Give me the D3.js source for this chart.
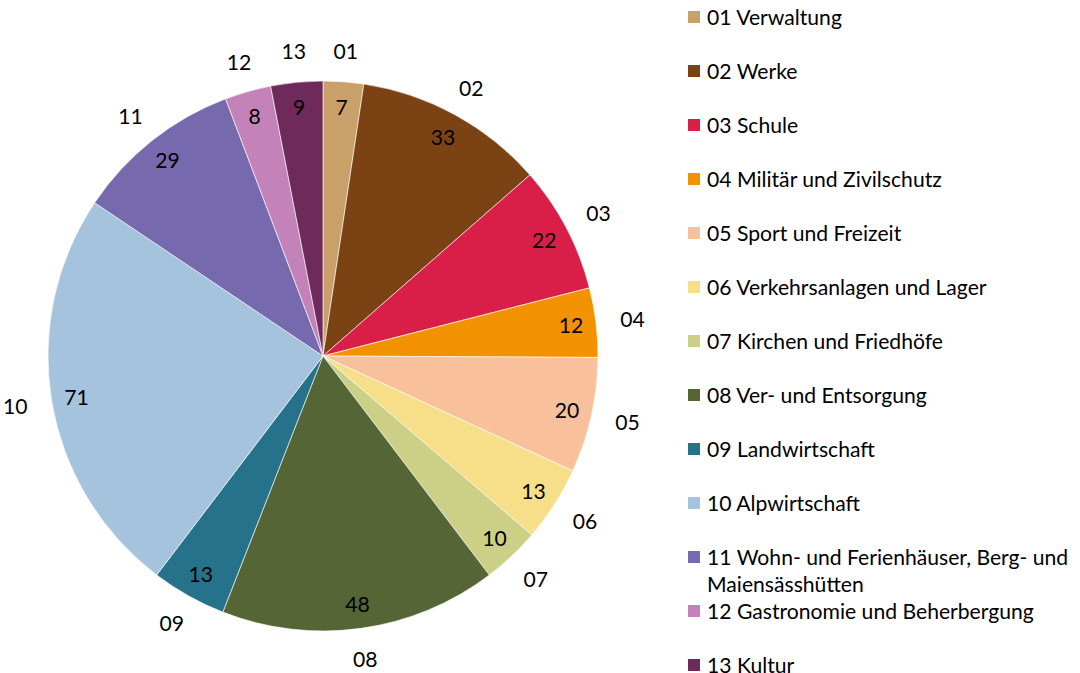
<!DOCTYPE html>
<html>
<head>
<meta charset="utf-8">
<script src="https://cdn.jsdelivr.net/npm/d3@7"></script>
<style>
  html, body { margin: 0; padding: 0; background: #fff; }
  svg { display: block; }
  text { font-family: Lato, "Open Sans", sans-serif; fill: #000; }
</style>
</head>
<body>
<svg id="chart" width="1080" height="673"></svg>
<script>
const codes = ["01","02","03","04","05","06","07","08","09","10","11","12","13"];
const categories = [
  "01 Verwaltung",
  "02 Werke",
  "03 Schule",
  "04 Militär und Zivilschutz",
  "05 Sport und Freizeit",
  "06 Verkehrsanlagen und Lager",
  "07 Kirchen und Friedhöfe",
  "08 Ver- und Entsorgung",
  "09 Landwirtschaft",
  "10 Alpwirtschaft",
  "11 Wohn- und Ferienhäuser, Berg- und Maiensässhütten",
  "12 Gastronomie und Beherbergung",
  "13 Kultur"
];
const values = [7, 33, 22, 12, 20, 13, 10, 48, 13, 71, 29, 8, 9];
const colors = ["#C9A06A","#7B4213","#D91F47","#F39200","#F8C09B","#F7DF8A","#CBD086",
                "#556535","#27728B","#A5C3DD","#7769AE","#C383B9","#6E2A5A"];

const svg = d3.select("#chart");
const cx = 323, cy = 356, R = 275;

// font size fitted so the legend text widths match a Calibri-like rendering
const probe = svg.append("text").attr("font-size", 20).text("01 Verwaltung");
const w20 = probe.node().getComputedTextLength();
probe.remove();
const fs = 20 * 135 / w20;

const data = categories.map((c, i) => ({ code: codes[i], name: c, value: values[i], color: colors[i] }));
const pie = d3.pie().value(d => d.value).sort(null);
const arcs = pie(data);
const arc = d3.arc().innerRadius(0).outerRadius(R);

const g = svg.append("g").attr("transform", `translate(${cx},${cy})`);
g.selectAll("path").data(arcs).join("path")
  .attr("d", arc)
  .attr("fill", d => d.data.color)
  .attr("stroke", "#fff")
  .attr("stroke-width", 0.75)
  .attr("stroke-opacity", 0.8);

const inner = d3.arc().innerRadius(250).outerRadius(250);
g.selectAll("text.val").data(arcs).join("text")
  .attr("class", "val")
  .attr("transform", d => `translate(${inner.centroid(d)})`)
  .attr("text-anchor", "middle")
  .attr("dominant-baseline", "central")
  .attr("font-size", fs)
  .text(d => d.data.value);

const outer = d3.arc().innerRadius(306).outerRadius(306);
g.selectAll("text.cat").data(arcs).join("text")
  .attr("class", "cat")
  .attr("transform", d => {
    const [x, y] = outer.centroid(d);
    const a = (d.startAngle + d.endAngle) / 2;
    // nudge for label box extent (Excel places the box edge, not its centre)
    return `translate(${x + 6 * Math.sin(a) * Math.abs(Math.sin(a))},${y})`;
  })
  .attr("text-anchor", "middle")
  .attr("dominant-baseline", "central")
  .attr("font-size", fs)
  .text(d => d.data.code);

// legend
const lx = 688, ly0 = 17, step = 54, lineH = 27, maxW = 365;
const leg = svg.append("g");
data.forEach((d, i) => {
  const y = ly0 + step * i;
  leg.append("rect").attr("x", lx).attr("y", y - 6).attr("width", 12).attr("height", 12).attr("fill", d.color);
  const t = leg.append("text").attr("x", lx + 19).attr("y", y)
    .attr("dominant-baseline", "central").attr("font-size", fs);
  const words = d.name.split(" ");
  let line = [], ln = 0;
  let ts = t.append("tspan").attr("x", lx + 19).attr("dy", 0);
  words.forEach(wd => {
    line.push(wd);
    ts.text(line.join(" "));
    if (ts.node().getComputedTextLength() > maxW && line.length > 1) {
      line.pop();
      ts.text(line.join(" "));
      line = [wd];
      ln++;
      ts = t.append("tspan").attr("x", lx + 19).attr("dy", lineH).text(wd);
    }
  });
});
</script>
</body>
</html>
